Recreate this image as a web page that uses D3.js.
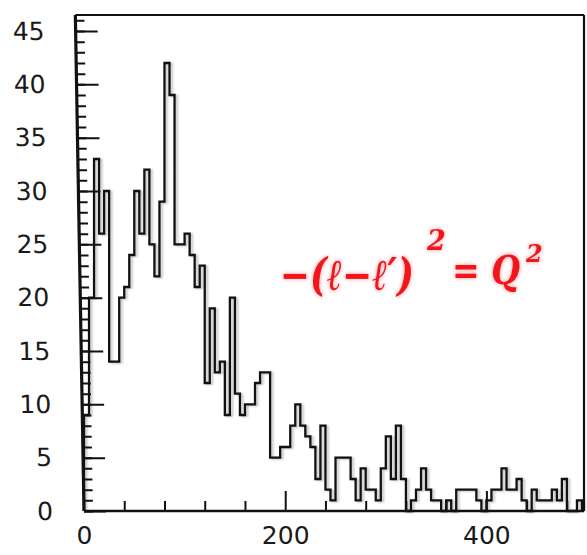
<!DOCTYPE html>
<html>
<head>
<meta charset="utf-8">
<script src="https://cdn.jsdelivr.net/npm/d3@7/dist/d3.min.js"></script>
<style>
  html, body { margin: 0; padding: 0; background: #ffffff; }
  svg { display: block; }
</style>
</head>
<body>
<script>
// Event counts per 5-unit bin, starting at 0
const binWidth = 5;
const counts = [
   9, 20, 33, 26, 30, 14, 14, 20, 21, 24,
  30, 26, 32, 25, 22, 29, 42, 39, 25, 25,
  26, 24, 21, 23, 12, 19, 13, 14,  9, 20,
  11,  9, 10, 10, 12, 13, 13,  5,  5,  6,
   6,  8, 10,  8,  7,  6,  3,  8,  2,  1,
   5,  5,  5,  3,  1,  4,  2,  2,  1,  4,
   7,  3,  8,  3,  0,  1,  2,  4,  2,  1,
   1,  0,  1,  0,  2,  2,  2,  2,  1,  0,
   1,  2,  2,  4,  2,  2,  3,  1,  0,  2,
   1,  1,  1,  2,  1,  3,  0,  0,  1
];
const binStarts = counts.map((_, i) => i * binWidth);

// Axis ticks
const yMajorTicks = [0, 5, 10, 15, 20, 25, 30, 35, 40, 45];
const yMinorTicks = d3.range(0, 47);
const xMajorTicks = [0, 200, 400];
const xMinorTicks = [40, 80, 120, 160, 240, 280, 320, 360, 440, 480];

const width = 587, height = 555;
const origin = { x: 84, y: 511 };
const plotW = 500, plotH = 496;
const axisLean = 1; // degrees the hand-ruled vertical axis leans to the left

const svg = d3.select("body").append("svg")
  .attr("width", width)
  .attr("height", height);

const defs = svg.append("defs");
defs.append("filter").attr("id", "soft")
  .append("feGaussianBlur").attr("stdDeviation", 0.9);

// Red ink with a soft halo, drawn in one pass
const ink = defs.append("filter").attr("id", "inkGlow")
  .attr("x", "-10%").attr("y", "-20%").attr("width", "120%").attr("height", "140%");
ink.append("feGaussianBlur").attr("in", "SourceGraphic").attr("stdDeviation", 2.2).attr("result", "blur");
ink.append("feComponentTransfer").attr("in", "blur").attr("result", "halo")
  .append("feFuncA").attr("type", "linear").attr("slope", 0.45);
const merge = ink.append("feMerge");
merge.append("feMergeNode").attr("in", "halo");
merge.append("feMergeNode").attr("in", "SourceGraphic");

const x = d3.scaleLinear().domain([0, 497]).range([0, plotW]);
const y = d3.scaleLinear().domain([0, 46.5]).range([0, -plotH]);

const g = svg.append("g")
  .attr("transform", `translate(${origin.x},${origin.y})`);
const gy = svg.append("g")
  .attr("transform", `translate(${origin.x},${origin.y}) skewX(${axisLean})`);

const labelFont = "'DejaVu Sans', sans-serif";

// Y axis: minor ticks every unit, major ticks every 5 with labels
const yMinor = gy.append("g").call(
  d3.axisRight(y).tickValues(yMinorTicks).tickSize(9).tickFormat("")
);
const yMajor = gy.append("g").call(
  d3.axisLeft(y).tickValues(yMajorTicks).tickSize(-22).tickPadding(31)
);

// X axis: minor ticks every 40, labelled major ticks every 200
const xMinor = g.append("g").call(
  d3.axisBottom(x).tickValues(xMinorTicks).tickSize(-10).tickFormat("")
);
const xMajor = g.append("g").call(
  d3.axisBottom(x).tickValues(xMajorTicks).tickSize(-20).tickPadding(15)
);

[yMinor, yMajor, xMinor, xMajor].forEach(a => {
  a.select(".domain").remove();
  a.selectAll(".tick line").attr("stroke", "#111").attr("stroke-width", 2);
  a.selectAll(".tick text")
    .attr("fill", "#1a1a1a")
    .style("font-family", labelFont)
    .style("font-size", "25px");
});
xMajor.selectAll(".tick").filter(d => d === 0).select("line").remove();

// Histogram outline
const steps = binStarts.map((s, i) => [s, counts[i]]);
const last = binStarts[binStarts.length - 1] + binWidth;
steps.unshift([0, 0]);
steps.push([last, counts[counts.length - 1]]);
steps.push([last, 0]);

const line = d3.line()
  .x(d => x(d[0]))
  .y(d => y(d[1]))
  .curve(d3.curveStepAfter);

g.append("path")
  .attr("d", line(steps))
  .attr("fill", "none")
  .attr("stroke", "#777")
  .attr("stroke-width", 2)
  .attr("opacity", 0.5)
  .attr("transform", "translate(2.2,0.8)")
  .attr("filter", "url(#soft)");

g.append("path")
  .attr("d", line(steps))
  .attr("fill", "none")
  .attr("stroke", "#111")
  .attr("stroke-width", 2.3)
  .attr("stroke-linejoin", "miter");

// Frame
const lean = plotH * Math.tan(axisLean * Math.PI / 180);
gy.append("line").attr("x1", 0).attr("y1", 0).attr("x2", 0).attr("y2", -plotH)
  .attr("stroke", "#111").attr("stroke-width", 3.2);
const frame = g.append("g").attr("stroke", "#111").attr("fill", "none");
frame.append("line").attr("x1", 0).attr("y1", 0).attr("x2", plotW).attr("y2", 0)
  .attr("stroke-width", 2.6);
frame.append("line").attr("x1", -lean).attr("y1", -plotH).attr("x2", plotW).attr("y2", -plotH)
  .attr("stroke-width", 2);
frame.append("line").attr("x1", plotW).attr("y1", -plotH).attr("x2", plotW).attr("y2", 0)
  .attr("stroke-width", 2.2);

// Hand-written red note: −(ℓ−ℓ′)² = Q², one text with placed parts
const note = svg.append("text")
  .attr("filter", "url(#inkGlow)")
  .attr("fill", "#f0141e")
  .style("font-family", "'DejaVu Serif', serif")
  .style("font-style", "italic")
  .style("font-weight", "bold");

note.append("tspan").attr("x", 280).attr("y", 290)
  .attr("font-size", 44)
  .attr("textLength", 134).attr("lengthAdjust", "spacingAndGlyphs")
  .text("−(ℓ−ℓ′)");
note.append("tspan").attr("x", 427).attr("y", 250)
  .attr("font-size", 27).text("2");
note.append("tspan").attr("x", 452).attr("y", 284)
  .attr("font-size", 40)
  .attr("textLength", 68).attr("lengthAdjust", "spacingAndGlyphs")
  .text("= Q");
note.append("tspan").attr("x", 526).attr("y", 262)
  .attr("font-size", 24).text("2");
</script>
</body>
</html>
